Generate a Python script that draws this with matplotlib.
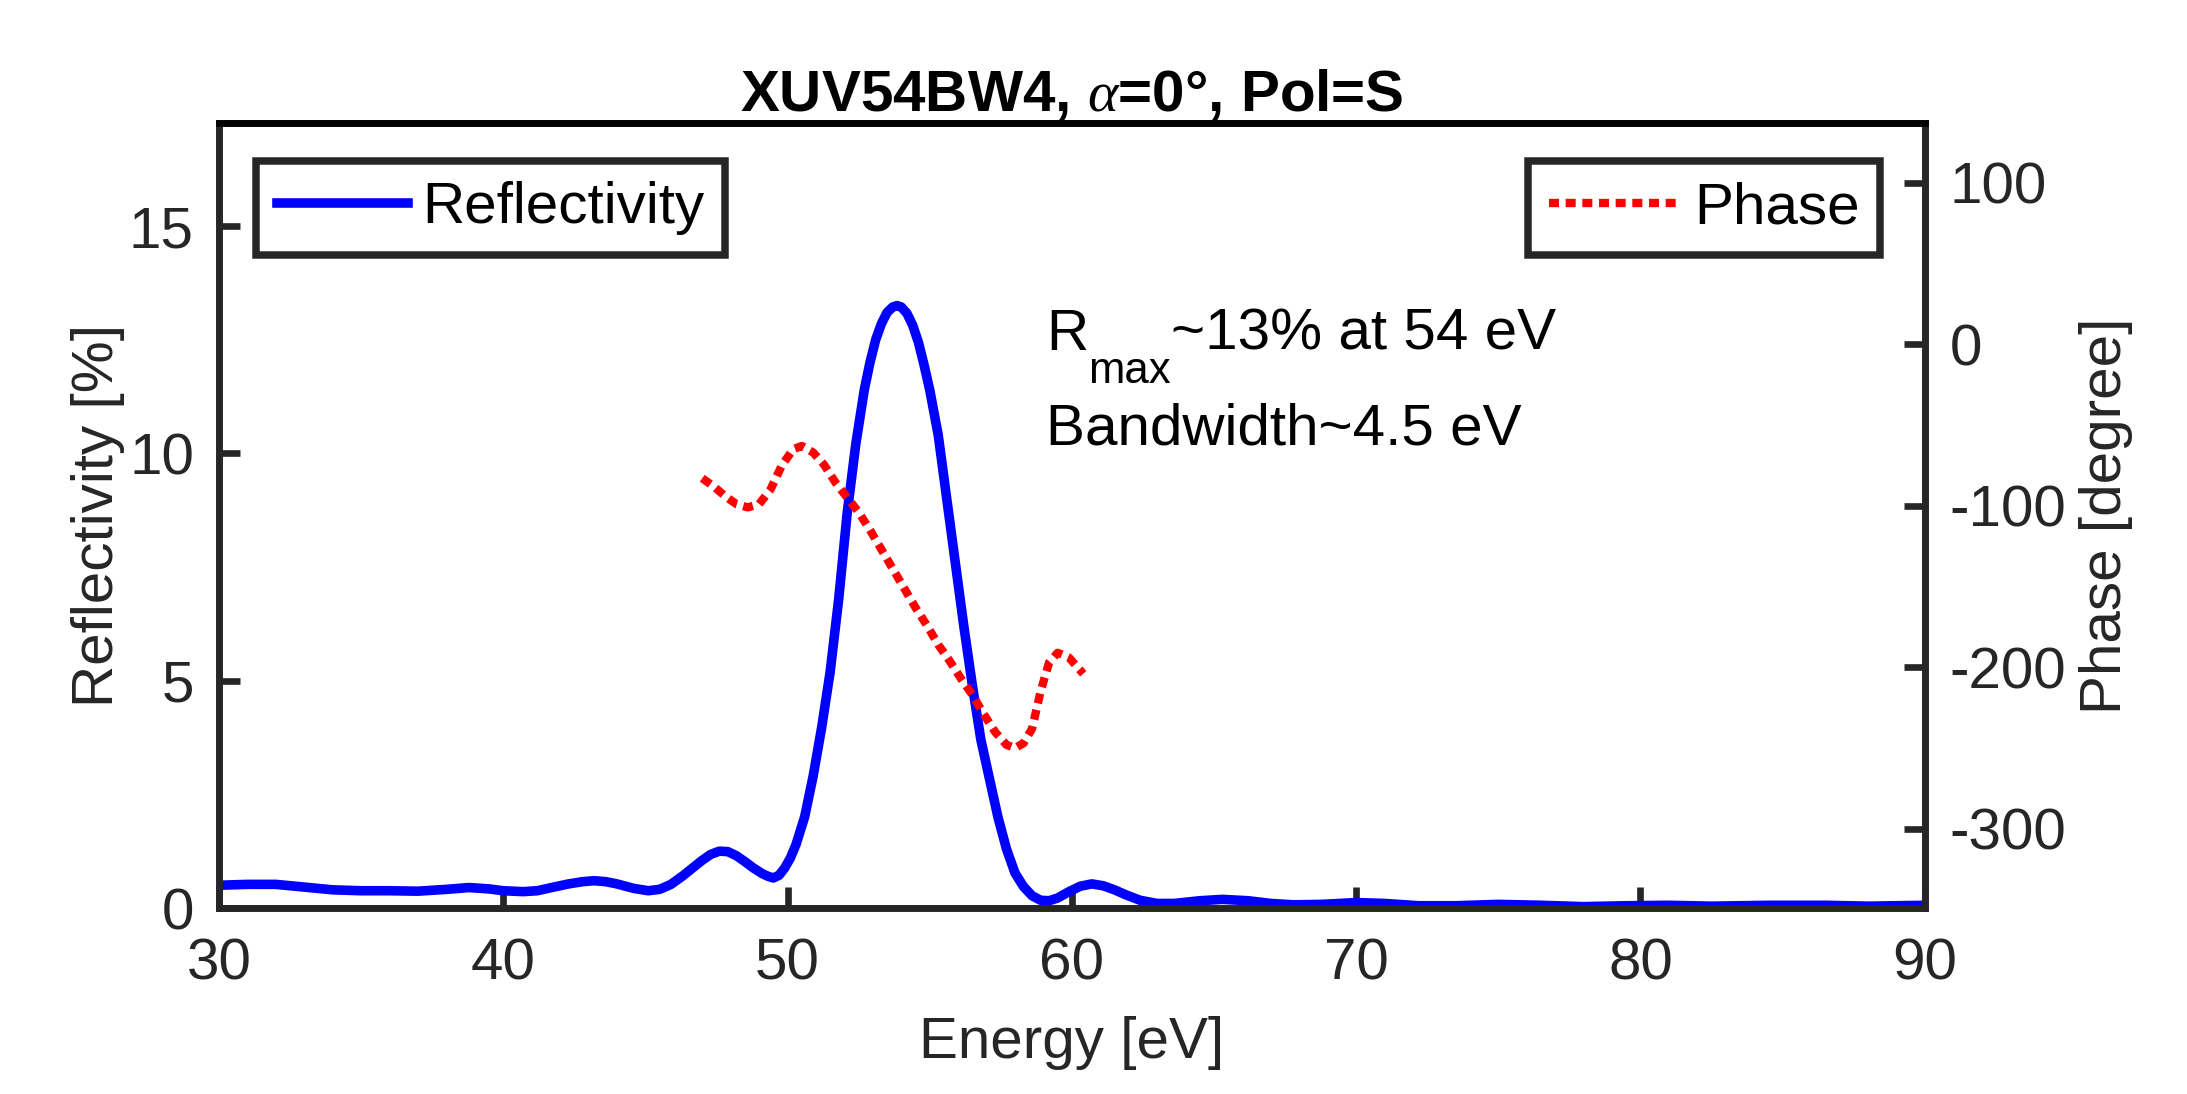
import matplotlib
matplotlib.use("Agg")
from matplotlib import pyplot as plt

plt.rcParams['font.family'] = ['Liberation Sans', 'DejaVu Sans']
plt.rcParams['mathtext.fontset'] = 'custom'
plt.rcParams['mathtext.rm'] = 'Liberation Sans'
plt.rcParams['mathtext.it'] = 'Liberation Serif:italic'
plt.rcParams['mathtext.bf'] = 'Liberation Sans:bold'
plt.rcParams['axes.unicode_minus'] = False

# reflectivity curve (energy in eV, R in %)
energy = [30.0, 31.0, 32.0, 33.0, 34.0, 35.0, 36.0, 37.0, 38.0, 38.8, 39.5, 40.0,
          40.7, 41.2, 41.7, 42.3, 42.8, 43.2, 43.6, 44.0, 44.6, 45.1, 45.5, 45.9,
          46.3, 46.7, 47.0, 47.3, 47.6,
          47.9, 48.2, 48.5, 48.8, 49.1, 49.3, 49.5, 49.7, 49.9, 50.1, 50.3, 50.6,
          50.9, 51.2, 51.5, 51.8, 52.1, 52.4, 52.7, 52.9, 53.1, 53.3, 53.5, 53.7,
          53.85, 54.0, 54.2, 54.4, 54.6, 54.8, 55.0, 55.3, 55.6, 55.9, 56.2, 56.5,
          56.8, 57.1, 57.4, 57.7, 58.0, 58.3, 58.6, 58.9, 59.2, 59.5, 59.9, 60.3,
          60.7, 61.1, 61.5, 61.9, 62.4, 63.0, 63.6, 64.5, 65.3, 66.2, 67.0, 67.8,
          68.8, 70.0, 71.0, 72.2, 73.5, 75.0, 76.5, 78.0, 79.5, 81.0, 82.5, 84.5,
          86.5, 88.0, 90.0]
refl = [0.50, 0.52, 0.52, 0.46, 0.40, 0.38, 0.38, 0.37, 0.41, 0.45, 0.42, 0.38,
        0.36, 0.38, 0.45, 0.53, 0.58, 0.60, 0.58, 0.53, 0.43, 0.38, 0.41, 0.52,
        0.70, 0.90, 1.05, 1.18, 1.25,
        1.24, 1.15, 1.02, 0.88, 0.76, 0.70, 0.66, 0.72, 0.88, 1.10, 1.40, 2.0,
        2.9, 3.97, 5.2, 6.8, 8.7, 10.2, 11.4, 12.0, 12.5, 12.85, 13.1, 13.22,
        13.25, 13.22, 13.08, 12.82, 12.45, 11.95, 11.4, 10.4, 9.0, 7.6, 6.2, 4.9,
        3.7, 2.85, 2.0, 1.3, 0.77, 0.47, 0.27, 0.17, 0.16, 0.22, 0.36, 0.48,
        0.53, 0.49, 0.40, 0.29, 0.17, 0.10, 0.10, 0.16, 0.19, 0.16, 0.10, 0.07,
        0.08, 0.12, 0.10, 0.05, 0.05, 0.08, 0.06, 0.03, 0.05, 0.06, 0.04, 0.06,
        0.06, 0.04, 0.06]

# phase (degree), only shown around the peak
energy_ph = [47.0, 47.4, 47.8, 48.2, 48.6, 49.0, 49.4, 49.8, 50.2, 50.5, 50.9, 51.3,
             51.7, 52.1, 52.5, 52.9, 53.3, 53.7, 54.1, 54.5, 54.9, 55.3, 55.7, 56.1,
             56.5, 56.9, 57.3, 57.7, 58.0, 58.3, 58.6, 58.9, 59.2, 59.5, 59.9, 60.4]
phase = [-83, -88, -94, -99, -101, -99, -90, -75, -65, -63, -67, -75,
         -86, -95, -104, -115, -127, -139, -151, -163, -174, -186, -196, -207,
         -217, -229, -240, -248, -250, -247, -238, -215, -197, -191, -194, -204]

axcol = '#262626'
fs = 14

fig = plt.figure(figsize=(7.29, 3.647), dpi=300)
ax = fig.add_axes([0.1001, 0.170, 0.780, 0.7176])
ax2 = ax.twinx()

l1, = ax.plot(energy, refl, color='#0000ff', lw=2.3, solid_joinstyle='round',
              label='Reflectivity')
l2, = ax2.plot(energy_ph, phase, color='#ff0000', lw=2.0, ls=(0, (1.2, 0.8)),
               dash_capstyle='butt', label='Phase')

ax.set_xlim(30, 90)
ax.set_ylim(0, 17.27)
ax2.set_ylim(-349, 137)
ax.set_xticks([30, 40, 50, 60, 70, 80, 90])
ax.set_yticks([0, 5, 10, 15])
ax2.set_yticks([-300, -200, -100, 0, 100])

for a in (ax, ax2):
    a.tick_params(direction='in', length=5, width=1.6, colors=axcol,
                  labelsize=fs, labelcolor=axcol, pad=6)
    for s in a.spines.values():
        s.set_linewidth(1.6)
        s.set_color(axcol)
    a.spines['top'].set_color('black')
ax.tick_params(axis='x', pad=7)

ax.set_xlabel('Energy [eV]', fontsize=fs, color=axcol, labelpad=6)
ax.set_ylabel('Reflectivity [%]', fontsize=fs, color=axcol, labelpad=1)
ax2.set_ylabel('Phase [degree]', fontsize=fs, color=axcol, labelpad=3)
ax.set_title(r'XUV54BW4, $\alpha$=0°, Pol=S', fontsize=fs, fontweight='bold', pad=2)

# R_max annotation, subscript set lower like the MATLAB tex interpreter
t1 = ax.text(0.485, 0.711, 'R', transform=ax.transAxes, fontsize=fs,
             va='baseline', ha='left')
t2 = ax.annotate('max', xy=(1, 0), xycoords=t1, xytext=(0, -5),
                 textcoords='offset points', fontsize=10.5, va='baseline', ha='left')
ax.annotate('~13% at 54 eV', xy=(1, 0), xycoords=(t2, t1), fontsize=fs,
            va='bottom', ha='left')
ax.text(0.485, 0.591, 'Bandwidth~4.5 eV', transform=ax.transAxes,
        fontsize=fs, va='baseline', ha='left')

leg1 = ax.legend(handles=[l1], loc='upper left', bbox_to_anchor=(0.022, 0.952),
                 fontsize=fs, fancybox=False, framealpha=1, borderpad=0.35,
                 handlelength=2.25, handletextpad=0.25, borderaxespad=0)
leg1.get_frame().set_edgecolor(axcol)
leg1.get_frame().set_linewidth(1.8)
leg2 = ax2.legend(handles=[l2], loc='upper right', bbox_to_anchor=(0.974, 0.952),
                  fontsize=fs, fancybox=False, framealpha=1, borderpad=0.35,
                  handlelength=2.2, handletextpad=0.3, borderaxespad=0)
leg2.get_frame().set_edgecolor(axcol)
leg2.get_frame().set_linewidth(1.8)

fig.savefig('out.png', dpi=300)
